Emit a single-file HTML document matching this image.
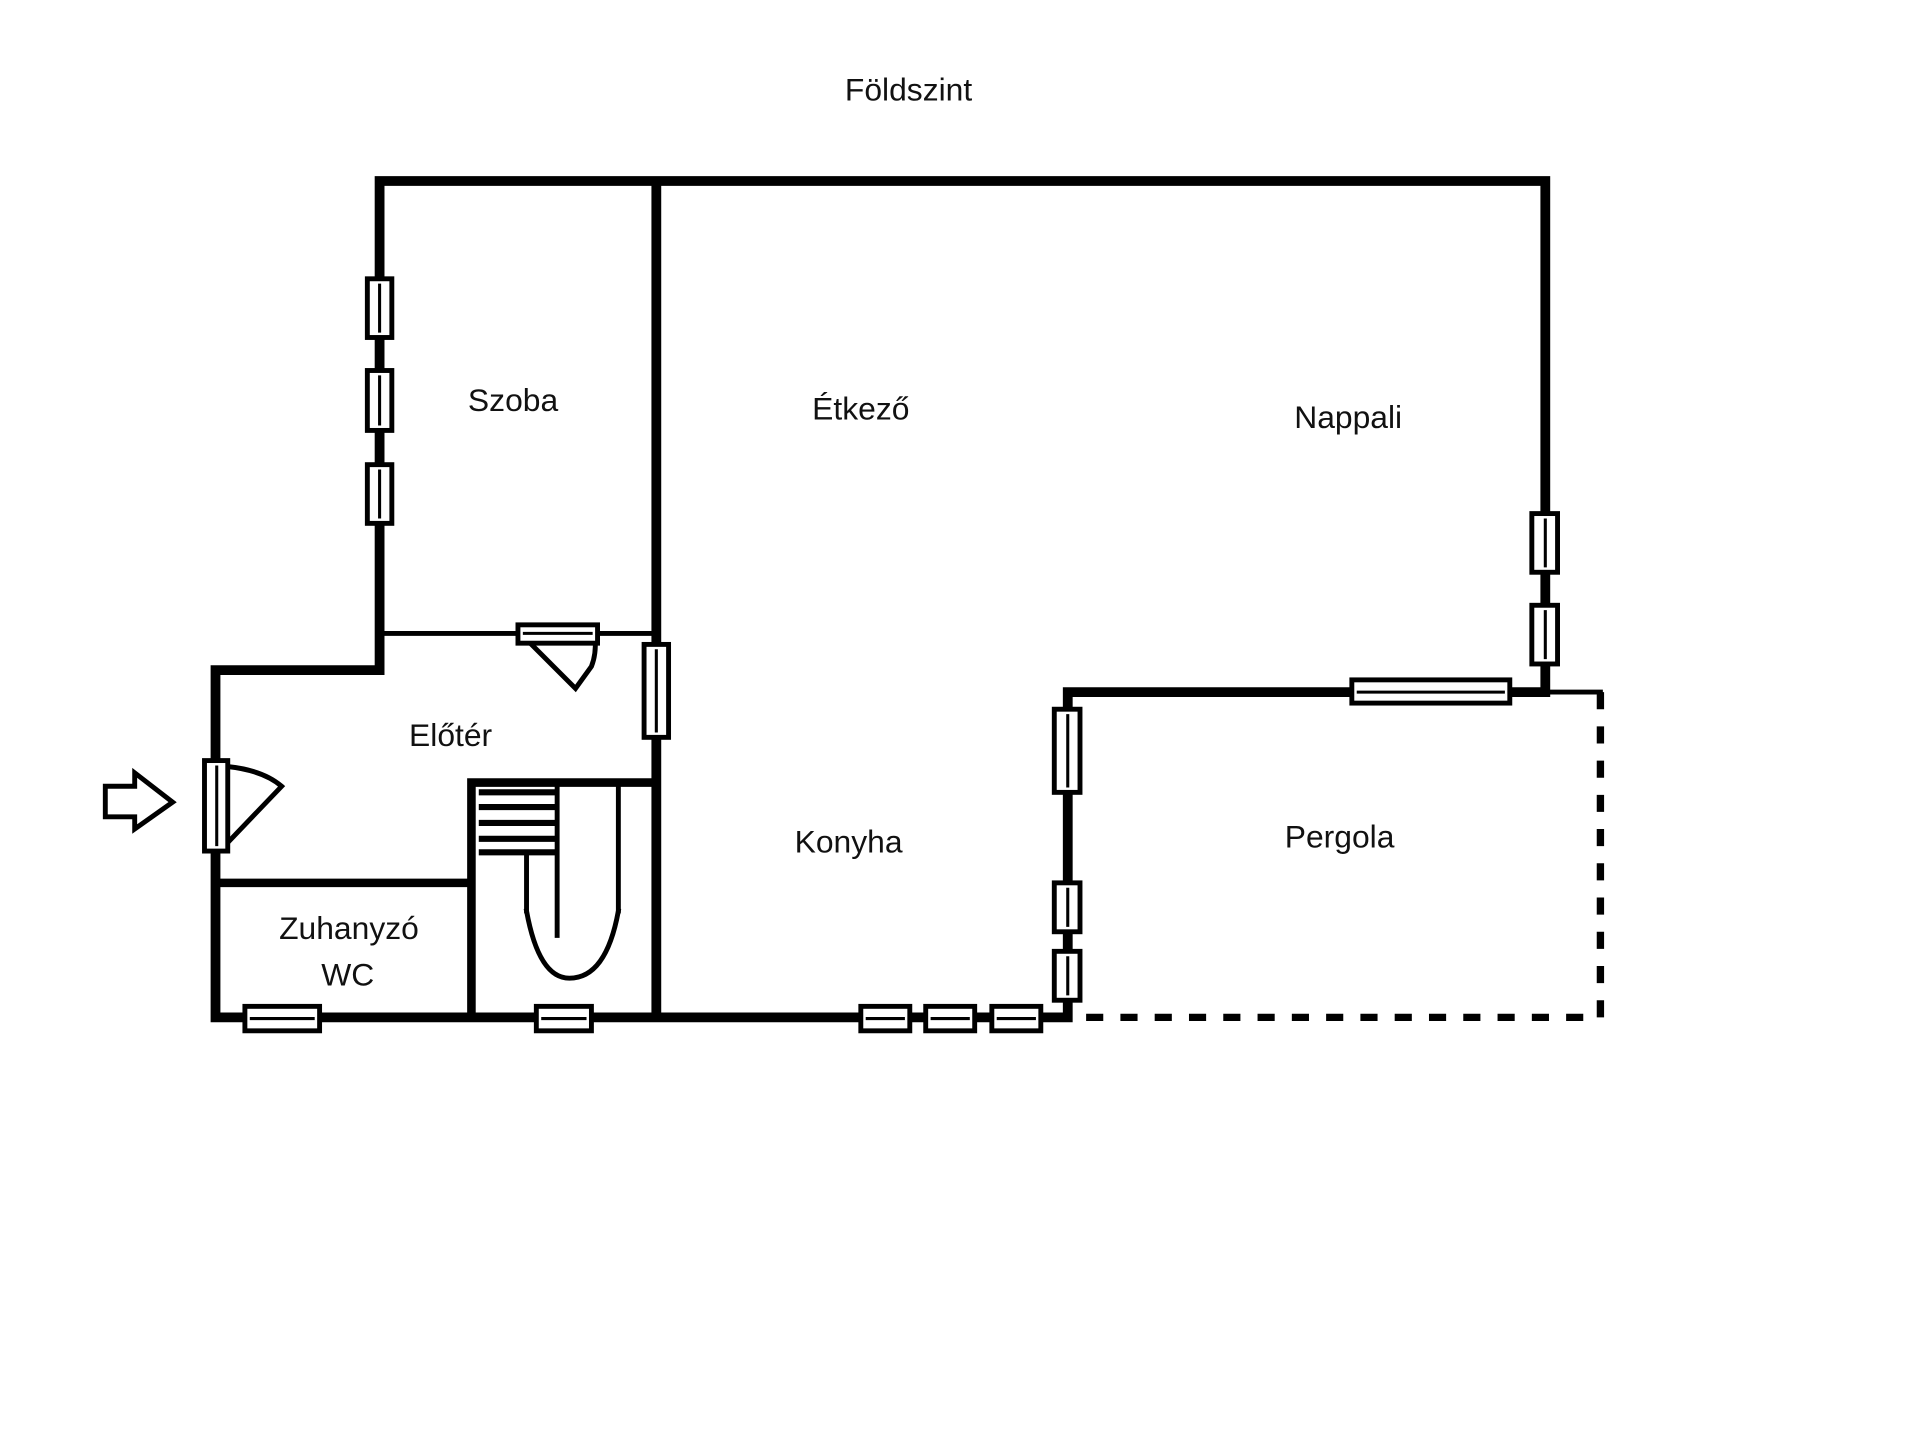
<!DOCTYPE html>
<html><head><meta charset="utf-8"><style>html,body{margin:0;padding:0;background:#fff}svg{display:block}</style></head>
<body>
<svg width="1920" height="1438" viewBox="0 0 1568 1176" preserveAspectRatio="none" xmlns="http://www.w3.org/2000/svg">
<rect width="1568" height="1176" fill="#fff"/>
<g stroke="#000" stroke-linecap="square" fill="none">
<path d="M310 148H1262V566 M310 148V548H176V832H872 M536 148V832 M872 832V566H1262" stroke-width="8"/>
<path d="M310 518H536" stroke-width="4"/>
<path d="M176 722H385 M385 640V832 M385 640H536" stroke-width="7"/>
<path d="M1262 566H1307" stroke-width="4"/>
<path d="M1307 566V832H872" stroke-width="6" stroke-dasharray="14 14" stroke-linecap="butt"/>
<!-- stairs -->
<path d="M391 648H455 M391 660H455 M391 673H455 M391 686H455 M391 697H455" stroke-width="5" stroke-linecap="butt"/>
<path d="M455 645V765 M505 645V745 M430 700V745" stroke-width="4"/>
<path d="M430 745Q440 800 465 800Q495 800 505 745" stroke-width="4"/>
<!-- entrance door -->
<path d="M187 627Q215 630 230 643L187 688" stroke-width="4"/>
<!-- top door -->
<path d="M430 523L470 563L483 545Q487 535 486 522" stroke-width="4"/>
<!-- arrow -->
<path d="M86 643H110V632L141 656L110 678V668H86Z" stroke-width="4"/>
</g>
<g stroke="#000" fill="#fff" stroke-width="4">
<rect x="300" y="228" width="20" height="48"/><rect x="300" y="303" width="20" height="49"/><rect x="300" y="380" width="20" height="48"/>
<rect x="526" y="527" width="20" height="76"/>
<rect x="1251" y="420" width="21" height="48"/><rect x="1251" y="495" width="21" height="48"/>
<rect x="861" y="580" width="21" height="68"/><rect x="861" y="722" width="21" height="40"/><rect x="861" y="778" width="21" height="40"/>
<rect x="1104" y="556" width="129" height="19"/>
<rect x="200" y="823" width="61" height="20"/><rect x="438" y="823" width="45" height="20"/>
<rect x="703" y="823" width="40" height="20"/><rect x="756" y="823" width="40" height="20"/><rect x="810" y="823" width="40" height="20"/>
<rect x="423" y="511" width="65" height="15"/>
<rect x="167" y="622" width="19" height="74"/>
</g>
<g stroke="#000" stroke-width="2.5">
<path d="M310 232V272 M310 307V348 M310 384V424 M536 531V599 M1262 424V464 M1262 499V539 M872 584V644 M872 726V758 M872 782V814 M1108 566H1229 M204 833H257 M442 833H479 M707 833H739 M760 833H792 M814 833H846 M427 518H484 M177 626V692"/>
</g>
<g font-family="'Liberation Sans','DejaVu Sans',sans-serif" font-size="26" fill="#111" text-anchor="middle">
<text x="742" y="82">Földszint</text>
<text x="419" y="336">Szoba</text>
<text x="703" y="343">Étkező</text>
<text x="1101" y="350">Nappali</text>
<text x="368" y="610">Előtér</text>
<text x="693" y="697">Konyha</text>
<text x="1094" y="693">Pergola</text>
<text x="285" y="768">Zuhanyzó</text>
<text x="284" y="806">WC</text>
</g>
</svg>
</body></html>
